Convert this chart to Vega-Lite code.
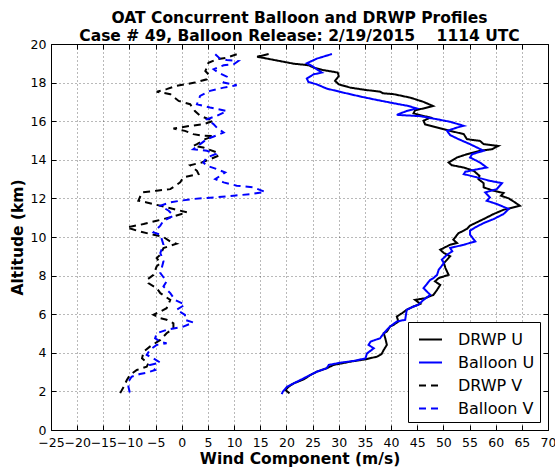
{
  "$schema": "https://vega.github.io/schema/vega-lite/v6.json",
  "width": 497,
  "height": 386,
  "autosize": "none",
  "padding": {"left": 51, "top": 44, "right": 7, "bottom": 39},
  "background": "white",
  "title": {
    "text": ["OAT Concurrent Balloon and DRWP Profiles", "Case # 49, Balloon Release: 2/19/2015\u00a0\u00a0\u00a0 1114 UTC"],
    "font": "DejaVu Sans", "fontSize": 15.5, "fontWeight": "bold", "color": "#000",
    "lineHeight": 18, "offset": -6, "anchor": "middle"
  },
  "config": {
    "font": "DejaVu Sans",
    "view": {"stroke": null},
    "legend": {"labelFont": "DejaVu Sans"}
  },
  "datasets": {
    "u": [
      {"s":"DRWP U","v":16.6,"a":19.48},{"s":"DRWP U","v":14.4,"a":19.34},{"s":"DRWP U","v":17.9,"a":19.16},{"s":"DRWP U","v":21.4,"a":18.98},{"s":"DRWP U","v":24.2,"a":18.9},{"s":"DRWP U","v":25.2,"a":18.78},{"s":"DRWP U","v":26.8,"a":18.66},{"s":"DRWP U","v":29.8,"a":18.52},{"s":"DRWP U","v":30.0,"a":18.34},{"s":"DRWP U","v":29.3,"a":18.09},{"s":"DRWP U","v":30.0,"a":17.91},{"s":"DRWP U","v":32.2,"a":17.74},{"s":"DRWP U","v":35.1,"a":17.62},{"s":"DRWP U","v":37.9,"a":17.53},{"s":"DRWP U","v":38.4,"a":17.45},{"s":"DRWP U","v":40.5,"a":17.4},{"s":"DRWP U","v":43.7,"a":17.22},{"s":"DRWP U","v":46.2,"a":17.0},{"s":"DRWP U","v":48.0,"a":16.79},{"s":"DRWP U","v":46.2,"a":16.66},{"s":"DRWP U","v":44.6,"a":16.57},{"s":"DRWP U","v":44.3,"a":16.41},{"s":"DRWP U","v":45.6,"a":16.31},{"s":"DRWP U","v":47.5,"a":16.19},{"s":"DRWP U","v":46.2,"a":16.02},{"s":"DRWP U","v":46.5,"a":15.84},{"s":"DRWP U","v":48.8,"a":15.67},{"s":"DRWP U","v":51.3,"a":15.5},{"s":"DRWP U","v":53.9,"a":15.33},{"s":"DRWP U","v":54.5,"a":15.07},{"s":"DRWP U","v":57.0,"a":14.98},{"s":"DRWP U","v":57.7,"a":14.81},{"s":"DRWP U","v":60.5,"a":14.72},{"s":"DRWP U","v":59.3,"a":14.55},{"s":"DRWP U","v":57.0,"a":14.47},{"s":"DRWP U","v":54.5,"a":14.29},{"s":"DRWP U","v":52.6,"a":14.12},{"s":"DRWP U","v":51.0,"a":13.86},{"s":"DRWP U","v":51.6,"a":13.72},{"s":"DRWP U","v":53.9,"a":13.6},{"s":"DRWP U","v":55.8,"a":13.43},{"s":"DRWP U","v":56.9,"a":13.17},{"s":"DRWP U","v":56.7,"a":13.0},{"s":"DRWP U","v":57.7,"a":12.79},{"s":"DRWP U","v":57.7,"a":12.57},{"s":"DRWP U","v":59.6,"a":12.4},{"s":"DRWP U","v":61.5,"a":12.28},{"s":"DRWP U","v":61.0,"a":12.14},{"s":"DRWP U","v":62.5,"a":12.0},{"s":"DRWP U","v":63.7,"a":11.79},{"s":"DRWP U","v":64.6,"a":11.62},{"s":"DRWP U","v":61.5,"a":11.41},{"s":"DRWP U","v":59.6,"a":11.19},{"s":"DRWP U","v":57.7,"a":10.93},{"s":"DRWP U","v":56.4,"a":10.76},{"s":"DRWP U","v":55.1,"a":10.59},{"s":"DRWP U","v":54.5,"a":10.42},{"s":"DRWP U","v":53.9,"a":10.33},{"s":"DRWP U","v":52.9,"a":10.2},{"s":"DRWP U","v":51.9,"a":9.86},{"s":"DRWP U","v":52.6,"a":9.69},{"s":"DRWP U","v":51.3,"a":9.6},{"s":"DRWP U","v":49.4,"a":9.34},{"s":"DRWP U","v":50.1,"a":9.17},{"s":"DRWP U","v":51.3,"a":9.0},{"s":"DRWP U","v":50.7,"a":8.82},{"s":"DRWP U","v":50.1,"a":8.65},{"s":"DRWP U","v":50.4,"a":8.39},{"s":"DRWP U","v":51.0,"a":8.04},{"s":"DRWP U","v":49.1,"a":7.87},{"s":"DRWP U","v":48.4,"a":7.7},{"s":"DRWP U","v":49.4,"a":7.52},{"s":"DRWP U","v":48.8,"a":7.26},{"s":"DRWP U","v":48.1,"a":7.0},{"s":"DRWP U","v":46.5,"a":6.83},{"s":"DRWP U","v":44.6,"a":6.74},{"s":"DRWP U","v":45.6,"a":6.54},{"s":"DRWP U","v":44.3,"a":6.4},{"s":"DRWP U","v":43.0,"a":6.23},{"s":"DRWP U","v":42.1,"a":6.05},{"s":"DRWP U","v":41.1,"a":5.88},{"s":"DRWP U","v":41.4,"a":5.62},{"s":"DRWP U","v":40.5,"a":5.45},{"s":"DRWP U","v":39.8,"a":5.36},{"s":"DRWP U","v":39.2,"a":5.1},{"s":"DRWP U","v":38.6,"a":5.01},{"s":"DRWP U","v":38.9,"a":4.75},{"s":"DRWP U","v":39.2,"a":4.41},{"s":"DRWP U","v":38.6,"a":4.15},{"s":"DRWP U","v":38.2,"a":3.94},{"s":"DRWP U","v":37.3,"a":3.8},{"s":"DRWP U","v":35.1,"a":3.66},{"s":"DRWP U","v":32.2,"a":3.54},{"s":"DRWP U","v":29.0,"a":3.37},{"s":"DRWP U","v":27.7,"a":3.2},{"s":"DRWP U","v":25.8,"a":3.02},{"s":"DRWP U","v":24.6,"a":2.85},{"s":"DRWP U","v":23.3,"a":2.62},{"s":"DRWP U","v":21.4,"a":2.42},{"s":"DRWP U","v":20.4,"a":2.24},{"s":"DRWP U","v":19.8,"a":2.07},{"s":"DRWP U","v":20.6,"a":1.9},
      {"s":"Balloon U","v":28.7,"a":19.48},{"s":"Balloon U","v":25.8,"a":19.24},{"s":"Balloon U","v":23.9,"a":19.0},{"s":"Balloon U","v":24.9,"a":18.86},{"s":"Balloon U","v":25.8,"a":18.69},{"s":"Balloon U","v":26.8,"a":18.52},{"s":"Balloon U","v":25.2,"a":18.43},{"s":"Balloon U","v":23.9,"a":18.21},{"s":"Balloon U","v":24.2,"a":18.03},{"s":"Balloon U","v":25.8,"a":17.91},{"s":"Balloon U","v":27.7,"a":17.69},{"s":"Balloon U","v":30.9,"a":17.48},{"s":"Balloon U","v":34.1,"a":17.28},{"s":"Balloon U","v":37.3,"a":17.1},{"s":"Balloon U","v":40.5,"a":16.93},{"s":"Balloon U","v":43.3,"a":16.79},{"s":"Balloon U","v":44.9,"a":16.66},{"s":"Balloon U","v":43.0,"a":16.53},{"s":"Balloon U","v":41.1,"a":16.33},{"s":"Balloon U","v":43.0,"a":16.3},{"s":"Balloon U","v":45.6,"a":16.26},{"s":"Balloon U","v":48.8,"a":16.1},{"s":"Balloon U","v":51.3,"a":15.97},{"s":"Balloon U","v":53.9,"a":15.76},{"s":"Balloon U","v":52.6,"a":15.67},{"s":"Balloon U","v":50.7,"a":15.5},{"s":"Balloon U","v":51.3,"a":15.28},{"s":"Balloon U","v":52.9,"a":15.07},{"s":"Balloon U","v":55.1,"a":14.81},{"s":"Balloon U","v":57.7,"a":14.47},{"s":"Balloon U","v":55.5,"a":14.29},{"s":"Balloon U","v":55.1,"a":14.12},{"s":"Balloon U","v":57.0,"a":13.86},{"s":"Balloon U","v":58.3,"a":13.6},{"s":"Balloon U","v":56.7,"a":13.52},{"s":"Balloon U","v":54.2,"a":13.38},{"s":"Balloon U","v":53.9,"a":13.26},{"s":"Balloon U","v":56.4,"a":13.09},{"s":"Balloon U","v":58.9,"a":12.91},{"s":"Balloon U","v":61.2,"a":12.79},{"s":"Balloon U","v":60.2,"a":12.48},{"s":"Balloon U","v":58.0,"a":12.31},{"s":"Balloon U","v":58.9,"a":12.05},{"s":"Balloon U","v":58.3,"a":11.88},{"s":"Balloon U","v":60.2,"a":11.71},{"s":"Balloon U","v":62.5,"a":11.45},{"s":"Balloon U","v":61.5,"a":11.19},{"s":"Balloon U","v":59.6,"a":10.93},{"s":"Balloon U","v":57.7,"a":10.72},{"s":"Balloon U","v":56.1,"a":10.5},{"s":"Balloon U","v":55.1,"a":10.33},{"s":"Balloon U","v":55.1,"a":10.12},{"s":"Balloon U","v":56.1,"a":9.77},{"s":"Balloon U","v":53.9,"a":9.6},{"s":"Balloon U","v":51.3,"a":9.43},{"s":"Balloon U","v":51.7,"a":9.26},{"s":"Balloon U","v":50.7,"a":9.08},{"s":"Balloon U","v":49.7,"a":8.82},{"s":"Balloon U","v":50.1,"a":8.65},{"s":"Balloon U","v":49.1,"a":8.3},{"s":"Balloon U","v":48.8,"a":8.04},{"s":"Balloon U","v":48.1,"a":7.87},{"s":"Balloon U","v":47.5,"a":7.78},{"s":"Balloon U","v":46.2,"a":7.35},{"s":"Balloon U","v":47.5,"a":7.0},{"s":"Balloon U","v":46.2,"a":6.74},{"s":"Balloon U","v":45.2,"a":6.48},{"s":"Balloon U","v":44.3,"a":6.4},{"s":"Balloon U","v":43.0,"a":6.23},{"s":"Balloon U","v":42.7,"a":5.71},{"s":"Balloon U","v":41.1,"a":5.62},{"s":"Balloon U","v":39.8,"a":5.36},{"s":"Balloon U","v":38.6,"a":5.01},{"s":"Balloon U","v":37.9,"a":4.75},{"s":"Balloon U","v":37.0,"a":4.67},{"s":"Balloon U","v":36.1,"a":4.58},{"s":"Balloon U","v":35.7,"a":4.41},{"s":"Balloon U","v":36.7,"a":4.23},{"s":"Balloon U","v":35.4,"a":3.97},{"s":"Balloon U","v":35.1,"a":3.71},{"s":"Balloon U","v":32.9,"a":3.58},{"s":"Balloon U","v":30.3,"a":3.49},{"s":"Balloon U","v":28.1,"a":3.37},{"s":"Balloon U","v":27.7,"a":3.2},{"s":"Balloon U","v":25.8,"a":3.02},{"s":"Balloon U","v":23.9,"a":2.76},{"s":"Balloon U","v":22.0,"a":2.5},{"s":"Balloon U","v":20.1,"a":2.24},{"s":"Balloon U","v":19.3,"a":1.98},{"s":"Balloon U","v":19.1,"a":1.86}
    ],
    "w": [
      {"s":"DRWP V","v":10.5,"a":19.47},{"s":"DRWP V","v":8.6,"a":19.29},{"s":"DRWP V","v":6.7,"a":19.21},{"s":"DRWP V","v":5.1,"a":19.03},{"s":"DRWP V","v":4.8,"a":18.78},{"s":"DRWP V","v":4.5,"a":18.6},{"s":"DRWP V","v":5.1,"a":18.43},{"s":"DRWP V","v":4.8,"a":18.17},{"s":"DRWP V","v":2.5,"a":18.0},{"s":"DRWP V","v":-1.0,"a":17.83},{"s":"DRWP V","v":-2.9,"a":17.66},{"s":"DRWP V","v":-4.8,"a":17.53},{"s":"DRWP V","v":-2.2,"a":17.4},{"s":"DRWP V","v":-0.6,"a":17.05},{"s":"DRWP V","v":1.6,"a":16.88},{"s":"DRWP V","v":2.5,"a":16.53},{"s":"DRWP V","v":3.5,"a":16.28},{"s":"DRWP V","v":4.8,"a":16.14},{"s":"DRWP V","v":6.1,"a":16.02},{"s":"DRWP V","v":4.1,"a":15.84},{"s":"DRWP V","v":1.6,"a":15.76},{"s":"DRWP V","v":-1.6,"a":15.62},{"s":"DRWP V","v":0.6,"a":15.5},{"s":"DRWP V","v":2.2,"a":15.33},{"s":"DRWP V","v":4.1,"a":15.25},{"s":"DRWP V","v":6.1,"a":15.23},{"s":"DRWP V","v":4.5,"a":15.07},{"s":"DRWP V","v":2.9,"a":14.81},{"s":"DRWP V","v":2.2,"a":14.72},{"s":"DRWP V","v":4.1,"a":14.64},{"s":"DRWP V","v":6.7,"a":14.38},{"s":"DRWP V","v":7.0,"a":14.21},{"s":"DRWP V","v":5.4,"a":14.03},{"s":"DRWP V","v":3.8,"a":13.86},{"s":"DRWP V","v":1.6,"a":13.72},{"s":"DRWP V","v":2.9,"a":13.43},{"s":"DRWP V","v":3.2,"a":13.26},{"s":"DRWP V","v":0.3,"a":13.09},{"s":"DRWP V","v":-0.3,"a":12.83},{"s":"DRWP V","v":-2.2,"a":12.48},{"s":"DRWP V","v":-4.8,"a":12.4},{"s":"DRWP V","v":-7.6,"a":12.31},{"s":"DRWP V","v":-8.3,"a":11.88},{"s":"DRWP V","v":-6.7,"a":11.79},{"s":"DRWP V","v":-4.1,"a":11.62},{"s":"DRWP V","v":-1.6,"a":11.45},{"s":"DRWP V","v":1.0,"a":11.28},{"s":"DRWP V","v":-2.2,"a":11.02},{"s":"DRWP V","v":-4.8,"a":10.84},{"s":"DRWP V","v":-7.3,"a":10.67},{"s":"DRWP V","v":-10.5,"a":10.5},{"s":"DRWP V","v":-8.6,"a":10.33},{"s":"DRWP V","v":-6.1,"a":10.16},{"s":"DRWP V","v":-3.5,"a":10.0},{"s":"DRWP V","v":-2.2,"a":9.77},{"s":"DRWP V","v":-1.0,"a":9.65},{"s":"DRWP V","v":-3.5,"a":9.43},{"s":"DRWP V","v":-4.1,"a":9.08},{"s":"DRWP V","v":-4.8,"a":8.91},{"s":"DRWP V","v":-4.1,"a":8.65},{"s":"DRWP V","v":-4.8,"a":8.48},{"s":"DRWP V","v":-5.4,"a":8.04},{"s":"DRWP V","v":-6.7,"a":7.78},{"s":"DRWP V","v":-6.4,"a":7.61},{"s":"DRWP V","v":-4.8,"a":7.35},{"s":"DRWP V","v":-4.1,"a":7.09},{"s":"DRWP V","v":-2.2,"a":6.74},{"s":"DRWP V","v":-2.9,"a":6.31},{"s":"DRWP V","v":-4.1,"a":6.14},{"s":"DRWP V","v":-5.4,"a":5.97},{"s":"DRWP V","v":-4.1,"a":5.79},{"s":"DRWP V","v":-2.9,"a":5.71},{"s":"DRWP V","v":-1.6,"a":5.53},{"s":"DRWP V","v":-1.6,"a":5.27},{"s":"DRWP V","v":-2.9,"a":5.01},{"s":"DRWP V","v":-4.1,"a":4.67},{"s":"DRWP V","v":-6.1,"a":4.32},{"s":"DRWP V","v":-7.3,"a":4.06},{"s":"DRWP V","v":-7.6,"a":3.71},{"s":"DRWP V","v":-6.4,"a":3.45},{"s":"DRWP V","v":-6.7,"a":3.28},{"s":"DRWP V","v":-8.6,"a":3.11},{"s":"DRWP V","v":-9.9,"a":2.85},{"s":"DRWP V","v":-10.5,"a":2.59},{"s":"DRWP V","v":-11.1,"a":2.24},{"s":"DRWP V","v":-11.8,"a":1.9},
      {"s":"Balloon V","v":6.4,"a":19.47},{"s":"Balloon V","v":7.3,"a":19.24},{"s":"Balloon V","v":8.6,"a":19.17},{"s":"Balloon V","v":10.8,"a":19.12},{"s":"Balloon V","v":9.9,"a":18.95},{"s":"Balloon V","v":8.0,"a":18.9},{"s":"Balloon V","v":6.1,"a":18.69},{"s":"Balloon V","v":7.0,"a":18.52},{"s":"Balloon V","v":8.6,"a":18.31},{"s":"Balloon V","v":8.0,"a":18.0},{"s":"Balloon V","v":10.5,"a":17.86},{"s":"Balloon V","v":8.0,"a":17.74},{"s":"Balloon V","v":5.4,"a":17.57},{"s":"Balloon V","v":3.5,"a":17.31},{"s":"Balloon V","v":2.9,"a":16.88},{"s":"Balloon V","v":5.4,"a":16.71},{"s":"Balloon V","v":8.6,"a":16.53},{"s":"Balloon V","v":6.7,"a":16.28},{"s":"Balloon V","v":4.8,"a":16.1},{"s":"Balloon V","v":6.1,"a":15.84},{"s":"Balloon V","v":6.7,"a":15.67},{"s":"Balloon V","v":8.0,"a":15.41},{"s":"Balloon V","v":4.8,"a":15.07},{"s":"Balloon V","v":2.2,"a":14.55},{"s":"Balloon V","v":4.8,"a":14.47},{"s":"Balloon V","v":6.4,"a":14.29},{"s":"Balloon V","v":4.8,"a":14.12},{"s":"Balloon V","v":4.1,"a":13.86},{"s":"Balloon V","v":4.8,"a":13.69},{"s":"Balloon V","v":6.7,"a":13.52},{"s":"Balloon V","v":8.3,"a":13.34},{"s":"Balloon V","v":6.4,"a":13.0},{"s":"Balloon V","v":8.0,"a":12.83},{"s":"Balloon V","v":10.5,"a":12.66},{"s":"Balloon V","v":13.7,"a":12.57},{"s":"Balloon V","v":15.9,"a":12.34},{"s":"Balloon V","v":13.1,"a":12.22},{"s":"Balloon V","v":9.9,"a":12.14},{"s":"Balloon V","v":6.1,"a":12.05},{"s":"Balloon V","v":2.2,"a":11.97},{"s":"Balloon V","v":-0.3,"a":11.88},{"s":"Balloon V","v":-2.2,"a":11.79},{"s":"Balloon V","v":-4.1,"a":11.62},{"s":"Balloon V","v":-2.5,"a":11.36},{"s":"Balloon V","v":-1.6,"a":11.1},{"s":"Balloon V","v":-3.5,"a":10.84},{"s":"Balloon V","v":-4.1,"a":10.59},{"s":"Balloon V","v":-5.4,"a":10.24},{"s":"Balloon V","v":-4.1,"a":10.12},{"s":"Balloon V","v":-3.5,"a":9.6},{"s":"Balloon V","v":-4.1,"a":9.17},{"s":"Balloon V","v":-3.5,"a":8.74},{"s":"Balloon V","v":-4.1,"a":8.13},{"s":"Balloon V","v":-2.9,"a":7.7},{"s":"Balloon V","v":-3.5,"a":7.44},{"s":"Balloon V","v":-2.2,"a":7.09},{"s":"Balloon V","v":-1.3,"a":6.74},{"s":"Balloon V","v":0.6,"a":6.49},{"s":"Balloon V","v":-1.0,"a":6.23},{"s":"Balloon V","v":0.6,"a":5.97},{"s":"Balloon V","v":0.6,"a":5.71},{"s":"Balloon V","v":2.2,"a":5.57},{"s":"Balloon V","v":0.3,"a":5.36},{"s":"Balloon V","v":-2.9,"a":5.19},{"s":"Balloon V","v":-4.8,"a":5.01},{"s":"Balloon V","v":-5.1,"a":4.75},{"s":"Balloon V","v":-4.1,"a":4.58},{"s":"Balloon V","v":-2.9,"a":4.49},{"s":"Balloon V","v":-4.8,"a":4.41},{"s":"Balloon V","v":-6.1,"a":4.15},{"s":"Balloon V","v":-6.7,"a":3.89},{"s":"Balloon V","v":-5.4,"a":3.71},{"s":"Balloon V","v":-4.1,"a":3.49},{"s":"Balloon V","v":-6.1,"a":3.37},{"s":"Balloon V","v":-5.1,"a":3.11},{"s":"Balloon V","v":-6.7,"a":2.97},{"s":"Balloon V","v":-8.0,"a":2.9},{"s":"Balloon V","v":-9.6,"a":2.76},{"s":"Balloon V","v":-10.2,"a":2.5},{"s":"Balloon V","v":-10.2,"a":2.24},{"s":"Balloon V","v":-9.9,"a":1.9}
    ]
  },
  "layer": [
    {
      "data": {"name": "u"},
      "mark": {"type": "line", "strokeWidth": 2},
      "encoding": {
        "x": {"field": "v", "type": "quantitative",
          "scale": {"domain": [-25, 70], "nice": false, "zero": false},
          "axis": {"orient": "bottom", "title": "Wind Component (m/s)",
            "values": [-25,-20,-15,-10,-5,0,5,10,15,20,25,30,35,40,45,50,55,60,65,70],
            "format": "d", "labelOverlap": false, "labelFlush": false,
            "labelFontSize": 12.5, "labelColor": "#000", "labelPadding": 11,
            "titleFontSize": 15.5, "titleFontWeight": "bold", "titleColor": "#000", "titlePadding": 3,
            "tickSize": -5, "tickColor": "#000", "domainColor": "#000",
            "grid": true, "gridColor": "#000", "gridOpacity": 0.55, "gridDash": [1, 3], "gridWidth": 1}},
        "y": {"field": "a", "type": "quantitative",
          "scale": {"domain": [0, 20], "nice": false, "zero": false},
          "axis": {"orient": "left", "title": "Altitude (km)",
            "values": [0,2,4,6,8,10,12,14,16,18,20],
            "format": "d", "labelOverlap": false, "labelFlush": false,
            "labelFontSize": 12.5, "labelColor": "#000", "labelPadding": 10,
            "titleFontSize": 15.5, "titleFontWeight": "bold", "titleColor": "#000", "titlePadding": 5,
            "tickSize": -5, "tickColor": "#000", "domainColor": "#000",
            "grid": true, "gridColor": "#000", "gridOpacity": 0.55, "gridDash": [1, 3], "gridWidth": 1}},
        "color": {"field": "s", "type": "nominal",
          "scale": {"domain": ["DRWP U", "Balloon U", "DRWP V", "Balloon V"], "range": ["#000000", "#0000ff", "#000000", "#0000ff"]},
          "legend": {"title": null, "orient": "bottom-right", "offset": 8, "padding": 5, "titlePadding": 0,
            "strokeColor": "#000", "fillColor": "#fff", "cornerRadius": 0,
            "symbolType": "stroke", "symbolSize": 529, "symbolStrokeWidth": 2, "symbolOffset": 5,
            "labelFontSize": 16, "labelColor": "#000", "labelOffset": 15, "rowPadding": 2}},
        "strokeDash": {"field": "s", "type": "nominal",
          "scale": {"domain": ["DRWP U", "Balloon U", "DRWP V", "Balloon V"], "range": [[1, 0], [1, 0], [7, 5], [7, 5]]},
          "legend": {"title": null}},
        "order": {"field": "a", "sort": "descending"}
      }
    },
    {
      "data": {"name": "w"},
      "mark": {"type": "line", "strokeWidth": 2},
      "encoding": {
        "x": {"field": "v", "type": "quantitative",
          "axis": {"orient": "top", "title": null, "labels": false, "grid": false,
            "values": [-25,-20,-15,-10,-5,0,5,10,15,20,25,30,35,40,45,50,55,60,65,70],
            "tickSize": -5, "tickColor": "#000", "domainColor": "#000"}},
        "y": {"field": "a", "type": "quantitative",
          "axis": {"orient": "right", "title": null, "labels": false, "grid": false,
            "values": [0,2,4,6,8,10,12,14,16,18,20],
            "tickSize": -5, "tickColor": "#000", "domainColor": "#000"}},
        "color": {"field": "s", "type": "nominal"},
        "strokeDash": {"field": "s", "type": "nominal"},
        "order": {"field": "a", "sort": "descending"}
      }
    }
  ],
  "resolve": {"axis": {"x": "independent", "y": "independent"}}
}
